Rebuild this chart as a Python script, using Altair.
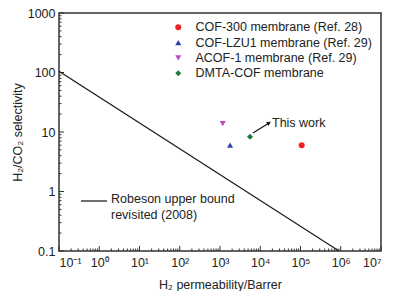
import altair as alt
import pandas as pd

# --- data ---
names = ["COF-300 membrane (Ref. 28)", "COF-LZU1 membrane (Ref. 29)",
         "ACOF-1 membrane (Ref. 29)", "DMTA-COF membrane"]
perm = [1.07e5, 1780, 1170, 5560]
sel = [6.0, 6.0, 13.8, 8.3]
shapes = ["circle", "triangle-up", "triangle-down", "diamond"]
colors = ["#ee2424", "#2f3fa6", "#b64fb8", "#1f7a37"]

robeson_perm = [0.1, 9.05e5]
robeson_sel = [105, 0.1]

x_major = [1e-1, 1e0, 1e1, 1e2, 1e3, 1e4, 1e5, 1e6, 1e7]
y_major = [0.1, 1, 10, 100, 1000]
minor_mult = [2, 3, 4, 5, 6, 7, 8, 9]

arrow_perm = [6600, 16500]
arrow_sel = [9.6, 14.2]

FONT = "Liberation Sans"
FS = 12.5
W, H = 322, 238

xs = alt.Scale(type="log", domain=[0.1, 1e7], nice=False)
ys = alt.Scale(type="log", domain=[0.1, 1000], nice=False)

sup = "'10' + (datum.value < 1 ? '⁻' : '') + substring('⁰¹²³⁴⁵⁶⁷⁸⁹', abs(round(log(datum.value)/LN10)), abs(round(log(datum.value)/LN10)) + 1)"

pts = pd.DataFrame({"name": names, "perm": perm, "sel": sel})
points = alt.Chart(pts).mark_point(filled=True, size=36, opacity=1).encode(
    x=alt.X("perm:Q", scale=xs, title="H₂ permeability/Barrer",
            axis=alt.Axis(values=x_major, labelExpr=sup, ticks=False, domain=False,
                          grid=False, labelPadding=5, titlePadding=10)),
    y=alt.Y("sel:Q", scale=ys, title="H₂/CO₂ selectivity",
            axis=alt.Axis(values=y_major, format="~g", ticks=False, domain=False,
                          grid=False, labelPadding=4, titlePadding=3)),
    color=alt.Color("name:N", scale=alt.Scale(domain=names, range=colors),
                    legend=alt.Legend(title=None, orient="none", legendX=113, legendY=8)),
    shape=alt.Shape("name:N", scale=alt.Scale(domain=names, range=shapes), legend=None),
)

rob = pd.DataFrame({"perm": robeson_perm, "sel": robeson_sel})
robline = alt.Chart(rob).mark_line(color="#1a1a1a", strokeWidth=1.2, clip=True).encode(
    x=alt.X("perm:Q", scale=xs), y=alt.Y("sel:Q", scale=ys))

arr = pd.DataFrame({"perm": arrow_perm, "sel": arrow_sel})
arrow_line = alt.Chart(arr).mark_line(color="#111", strokeWidth=1.2).encode(
    x=alt.X("perm:Q", scale=xs), y=alt.Y("sel:Q", scale=ys))
arrow_head = alt.Chart(arr.iloc[[1]]).mark_point(
    shape="triangle-up", filled=True, size=22, angle=58, color="#111", opacity=1).encode(
    x=alt.X("perm:Q", scale=xs), y=alt.Y("sel:Q", scale=ys))
this_work = alt.Chart(pd.DataFrame({"perm": [18500], "sel": [14.2], "t": ["This work"]})).mark_text(
    align="left", baseline="middle", font=FONT, fontSize=FS, color="#222", dx=1).encode(
    x=alt.X("perm:Q", scale=xs), y=alt.Y("sel:Q", scale=ys), text="t:N")

# Robeson legend entry
rob_leg_line = alt.Chart(pd.DataFrame({"a": [0]})).mark_rule(color="#111", strokeWidth=1.2).encode(
    x=alt.value(22), x2=alt.value(48), y=alt.value(188))
rob_leg_text = alt.Chart(pd.DataFrame({"a": [0]})).mark_text(
    align="left", baseline="top", font=FONT, fontSize=FS, color="#222", lineHeight=15.5).encode(
    x=alt.value(52), y=alt.value(180), text=alt.value(["Robeson upper bound", "revisited (2008)"]))

# inward ticks
xmaj = pd.DataFrame({"v": x_major})
xmin = pd.DataFrame({"v": [m * d for d in x_major[:-1] for m in minor_mult]})
ymaj = pd.DataFrame({"v": y_major})
ymin = pd.DataFrame({"v": [m * d for d in y_major[:-1] for m in minor_mult]})

tk = dict(color="#333", strokeWidth=1)
xt1 = alt.Chart(xmaj).mark_rule(**tk).encode(x=alt.X("v:Q", scale=xs), y=alt.value(H), y2=alt.value(H - 5))
xt2 = alt.Chart(xmin).mark_rule(**tk).encode(x=alt.X("v:Q", scale=xs), y=alt.value(H), y2=alt.value(H - 2.5))
yt1 = alt.Chart(ymaj).mark_rule(**tk).encode(y=alt.Y("v:Q", scale=ys), x=alt.value(0), x2=alt.value(5))
yt2 = alt.Chart(ymin).mark_rule(**tk).encode(y=alt.Y("v:Q", scale=ys), x=alt.value(0), x2=alt.value(2.5))

chart = alt.layer(
    xt1, xt2, yt1, yt2, robline, arrow_line, arrow_head, this_work,
    rob_leg_line, rob_leg_text, points
).properties(
    width=W, height=H,
    autosize=alt.AutoSizeParams(type="none"),
    padding={"left": 51, "top": 5, "right": 15, "bottom": 40},
).configure_view(
    stroke="#333", strokeWidth=1.5
).configure_axis(
    labelFont=FONT, titleFont=FONT, labelFontSize=FS, titleFontSize=FS,
    labelColor="#222", titleColor="#222", titleFontWeight="normal"
).configure_legend(
    labelFont=FONT, labelFontSize=FS, labelColor="#222", symbolSize=36,
    symbolStrokeWidth=0, padding=0, rowPadding=2.3, labelOffset=11, labelLimit=400
)

chart.save("out.html", embed_options={"renderer": "svg", "actions": False})
